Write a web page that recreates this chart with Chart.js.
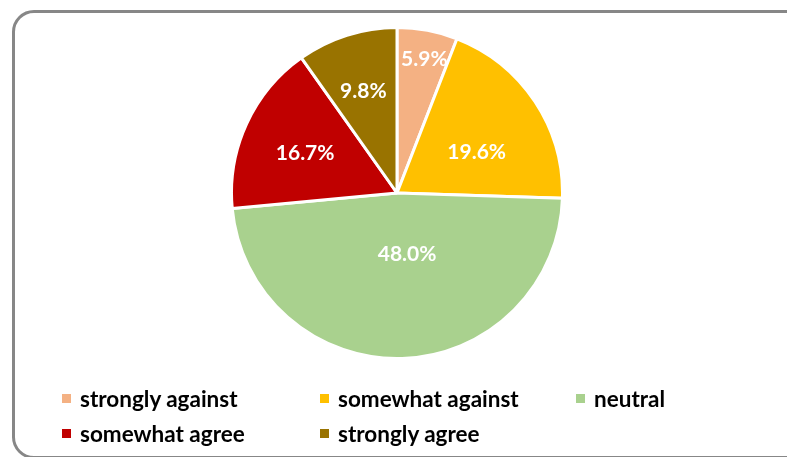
<!DOCTYPE html>
<html>
<head>
<meta charset="utf-8">
<script src="https://cdn.jsdelivr.net/npm/chart.js@4/dist/chart.umd.min.js"></script>
<style>
  html, body { margin: 0; padding: 0; background: #fff; }
  body { width: 787px; height: 457px; position: relative; overflow: hidden; font-family: Lato, "Open Sans", sans-serif; }
  #frame { position: absolute; left: 12px; top: 10px; width: 790px; height: 443px; border: 3px solid #878787; border-radius: 22px; box-sizing: content-box; }
  #pieBox { position: absolute; left: 230px; top: 26px; width: 334px; height: 334px; }
  #legend { position: absolute; left: 0; top: 0; width: 787px; height: 457px; pointer-events: none; }
  .item { position: absolute; display: flex; align-items: center; font-weight: bold; font-size: 22.5px; color: #000; white-space: nowrap; }
  .sw { width: 9px; height: 9px; margin-right: 9px; }
</style>
</head>
<body>
<div id="frame"></div>
<div id="pieBox"><canvas id="c"></canvas></div>
<div id="legend"></div>
<script>
const categories = ["strongly against", "somewhat against", "neutral", "somewhat agree", "strongly agree"];
const percentages = [5.9, 19.6, 48.0, 16.7, 9.8];
const colors = ["#F4B183", "#FFC000", "#A9D18E", "#C00000", "#997300"];

// label placement: fraction of outer radius and angular nudge (degrees) per slice
const labelRadius = [0.827, 0.54, 0.377, 0.606, 0.65];
const labelAngleNudge = [0.9, 6.6, -7.5, -1, -0.6];

const labelPlugin = {
  id: 'sliceLabels',
  afterDatasetsDraw(chart) {
    const ctx = chart.ctx;
    const meta = chart.getDatasetMeta(0);
    ctx.save();
    ctx.fillStyle = '#fff';
    ctx.font = 'bold 21px Lato, "Open Sans", sans-serif';
    ctx.textAlign = 'center';
    ctx.textBaseline = 'middle';
    meta.data.forEach((arc, i) => {
      const p = arc.getProps(['x', 'y', 'startAngle', 'endAngle', 'outerRadius']);
      const a = (p.startAngle + p.endAngle) / 2 + labelAngleNudge[i] * Math.PI / 180;
      const r = p.outerRadius * labelRadius[i];
      ctx.fillText(percentages[i].toFixed(1) + '%', p.x + Math.cos(a) * r, p.y + Math.sin(a) * r);
    });
    ctx.restore();
  }
};

new Chart(document.getElementById('c'), {
  type: 'pie',
  data: {
    labels: categories,
    datasets: [{
      data: percentages,
      backgroundColor: colors,
      borderColor: '#ffffff',
      borderWidth: 3
    }]
  },
  options: {
    responsive: true,
    maintainAspectRatio: false,
    animation: false,
    layout: { padding: 0 },
    plugins: { legend: { display: false }, tooltip: { enabled: false } }
  },
  plugins: [labelPlugin]
});

// HTML legend built from arrays
const legendPos = [[62, 398], [320, 398], [576, 398], [62, 433], [320, 433]];
const lg = document.getElementById('legend');
categories.forEach((name, i) => {
  const d = document.createElement('div');
  d.className = 'item';
  d.style.left = legendPos[i][0] + 'px';
  d.style.top = (legendPos[i][1] - 14) + 'px';
  d.style.height = '28px';
  const s = document.createElement('span');
  s.className = 'sw';
  s.style.background = colors[i];
  d.appendChild(s);
  d.appendChild(document.createTextNode(name));
  lg.appendChild(d);
});
</script>
</body>
</html>
